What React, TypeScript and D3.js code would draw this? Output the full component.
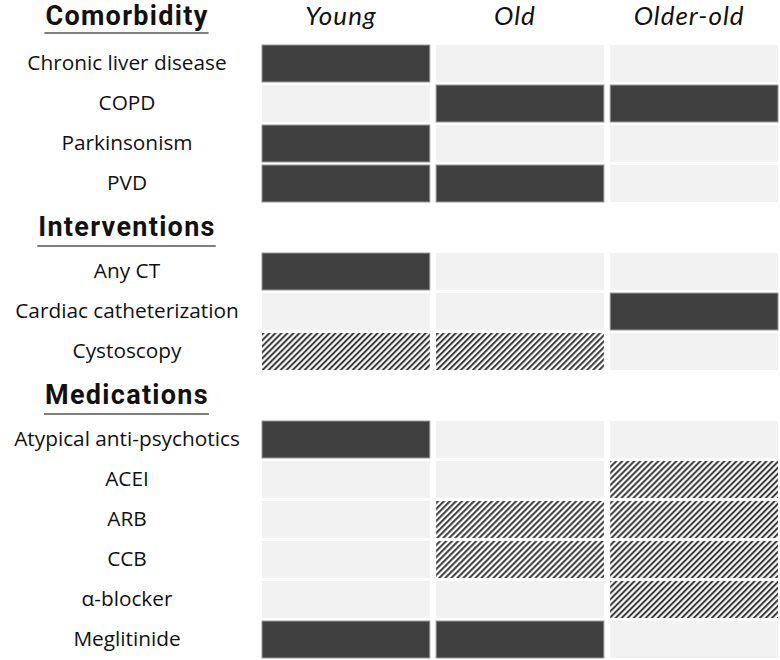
import React, { useEffect, useRef } from "react";
import * as d3 from "d3";

// Columns (age groups)
const columns = ["Young", "Old", "Older-old"];

// Section titles
const sections = ["Comorbidity", "Interventions", "Medications"];

// Row labels per section
const comorbidityRows = ["Chronic liver disease", "COPD", "Parkinsonism", "PVD"];
const interventionRows = ["Any CT", "Cardiac catheterization", "Cystoscopy"];
const medicationRows = [
  "Atypical anti-psychotics",
  "ACEI",
  "ARB",
  "CCB",
  "α-blocker",
  "Meglitinide",
];

// Cell states: 1 = solid dark, -1 = hatched, 0 = none (light)
const comorbidityValues = [
  [1, 0, 0],
  [0, 1, 1],
  [1, 0, 0],
  [1, 1, 0],
];
const interventionValues = [
  [1, 0, 0],
  [0, 0, 1],
  [-1, -1, 0],
];
const medicationValues = [
  [1, 0, 0],
  [0, 0, -1],
  [0, -1, -1],
  [0, -1, -1],
  [0, 0, -1],
  [1, 1, 0],
];

const W = 780;
const H = 660;
const FONT = "'Open Sans', 'Noto Sans', sans-serif";
const HEAD_FONT = "Lato, 'Open Sans', sans-serif";
const SECTION_FONT = "Roboto, 'Open Sans', sans-serif";

export default function App() {
  const ref = useRef<SVGSVGElement | null>(null);

  useEffect(() => {
    const svg = d3.select(ref.current);
    svg.selectAll("*").remove();

    const defs = svg.append("defs");
    const pat = defs
      .append("pattern")
      .attr("id", "hatch")
      .attr("patternUnits", "userSpaceOnUse")
      .attr("width", 4.25)
      .attr("height", 8)
      .attr("patternTransform", "rotate(45)");
    pat.append("rect").attr("width", 4.25).attr("height", 8).attr("fill", "#ffffff");
    pat
      .append("line")
      .attr("x1", 1.1)
      .attr("x2", 1.1)
      .attr("y1", 0)
      .attr("y2", 8)
      .attr("stroke", "#2e2e2e")
      .attr("stroke-width", 1.9);

    const x = d3
      .scaleBand<string>()
      .domain(columns)
      .range([262, 778])
      .paddingInner(0.036);

    const labelX = 127;
    const rowStep = 40;
    const headerGap = 48;

    const sectionData = [
      { title: sections[0], rows: comorbidityRows, values: comorbidityValues },
      { title: sections[1], rows: interventionRows, values: interventionValues },
      { title: sections[2], rows: medicationRows, values: medicationValues },
    ];

    // Column headers
    svg
      .selectAll("text.col")
      .data(columns)
      .join("text")
      .attr("class", "col")
      .attr("x", (d) => (x(d) as number) + x.bandwidth() / 2 - 5)
      .attr("y", 25)
      .attr("text-anchor", "middle")
      .attr("font-family", HEAD_FONT)
      .attr("font-style", "italic")
      .attr("font-size", 26)
      .attr("letter-spacing", 1)
      .attr("fill", "#111")
      .text((d) => d);

    let start = 43.5;
    sectionData.forEach((sec, si) => {
      const y = d3
        .scaleBand<string>()
        .domain(sec.rows)
        .range([start, start + sec.rows.length * rowStep])
        .paddingInner(0.075)
        .paddingOuter(0.0375);

      const baseline = si === 0 ? 25 : start - 16;
      const t = svg
        .append("text")
        .attr("x", labelX)
        .attr("y", baseline)
        .attr("text-anchor", "middle")
        .attr("font-family", SECTION_FONT)
        .attr("font-weight", 700)
        .attr("font-size", 27)
        .attr("letter-spacing", 1.3)
        .attr("fill", "#111")
        .text(sec.title);
      const len = (t.node() as SVGTextElement).getComputedTextLength();
      const uy = baseline + (si === 0 ? 8 : 10.5);
      svg
        .append("line")
        .attr("x1", labelX - len / 2 - 1)
        .attr("x2", labelX + len / 2)
        .attr("y1", uy)
        .attr("y2", uy)
        .attr("stroke", "#555")
        .attr("stroke-width", 1.6);

      sec.rows.forEach((row, ri) => {
        const yy = y(row) as number;
        svg
          .append("text")
          .attr("x", labelX)
          .attr("y", yy + y.bandwidth() / 2 + 6.8)
          .attr("text-anchor", "middle")
          .attr("font-family", FONT)
          .attr("font-size", 20.8)
          .attr("fill", "#111")
          .text(row);

        columns.forEach((c, ci) => {
          const v = sec.values[ri][ci];
          svg
            .append("rect")
            .attr("x", x(c) as number)
            .attr("y", yy)
            .attr("width", x.bandwidth())
            .attr("height", y.bandwidth())
            .attr("fill", v === 1 ? "#404040" : v === -1 ? "url(#hatch)" : "#f2f2f2")
            .attr("stroke", v === 1 ? "#9a9a9a" : "none")
            .attr("stroke-width", 1);
        });
      });

      start += sec.rows.length * rowStep + headerGap;
    });
  }, []);

  return (
    <svg
      ref={ref}
      width={W}
      height={H}
      style={{ position: "absolute", left: 0, top: 0, background: "#fff" }}
    />
  );
}
